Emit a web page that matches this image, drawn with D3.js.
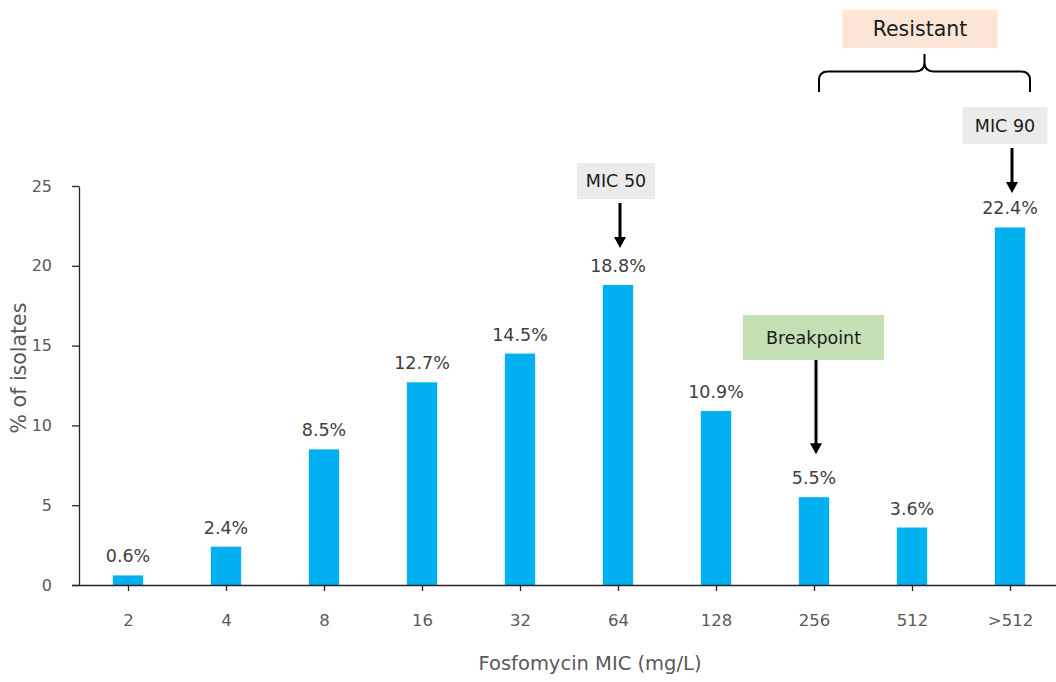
<!DOCTYPE html>
<html>
<head>
<meta charset="utf-8">
<script src="https://cdn.jsdelivr.net/npm/d3@7"></script>
<style>
  html, body { margin: 0; padding: 0; background: #fff; }
  svg { display: block; font-family: "DejaVu Sans", sans-serif; }
</style>
</head>
<body>
<svg id="chart" width="1056" height="682"></svg>
<script>
// Distribution of fosfomycin MICs among isolates
const categories = ["2", "4", "8", "16", "32", "64", "128", "256", "512", ">512"];
const percents   = [0.6, 2.4, 8.5, 12.7, 14.5, 18.8, 10.9, 5.5, 3.6, 22.4];
const yTicks     = [0, 5, 10, 15, 20, 25];

const svg = d3.select("#chart");

const x = d3.scalePoint().domain(categories).range([79, 1059]).padding(0.5);
const y = d3.scaleLinear().domain([0, 25]).range([585, 186]);
const barW = x.step() * 0.31;

// Y axis
const yAxis = svg.append("g").attr("transform", "translate(79,0)")
  .call(d3.axisLeft(y).tickValues(yTicks).tickSize(7).tickPadding(20).tickSizeOuter(0));
yAxis.select(".domain").attr("stroke", "#262626").attr("stroke-width", 1.3);
yAxis.selectAll(".tick line").attr("stroke", "#262626").attr("stroke-width", 1.3);
yAxis.selectAll(".tick text").attr("fill", "#595959").attr("font-size", 16)
  .attr("font-family", "DejaVu Sans, sans-serif");

// Bars
svg.append("g").selectAll("rect").data(categories).join("rect")
  .attr("x", (d) => x(d) - barW / 2)
  .attr("width", barW)
  .attr("y", (d, i) => y(percents[i]))
  .attr("height", (d, i) => y(0) - y(percents[i]))
  .attr("fill", "#00b0f0");

// X axis
const xAxis = svg.append("g").attr("transform", `translate(0,${y(0)})`)
  .call(d3.axisBottom(x).tickSize(6).tickPadding(23).tickSizeOuter(0));
xAxis.select(".domain").attr("d", "M72,0.5H1056").attr("stroke", "#262626").attr("stroke-width", 1.3);
xAxis.selectAll(".tick line").attr("stroke", "#262626").attr("stroke-width", 1.3);
xAxis.selectAll(".tick text").attr("fill", "#595959").attr("font-size", 16.5)
  .attr("font-family", "DejaVu Sans, sans-serif");

// Value labels
svg.append("g").selectAll("text").data(categories).join("text")
  .attr("x", (d) => x(d))
  .attr("y", (d, i) => y(percents[i]) - 13)
  .attr("text-anchor", "middle")
  .attr("font-size", 17.5)
  .attr("fill", "#404040")
  .text((d, i) => percents[i].toFixed(1) + "%");

// Axis titles
svg.append("text")
  .attr("transform", "translate(26,368) rotate(-90)")
  .attr("text-anchor", "middle")
  .attr("font-size", 20.5)
  .attr("fill", "#595959")
  .text("% of isolates");

svg.append("text")
  .attr("x", 590).attr("y", 670)
  .attr("text-anchor", "middle")
  .attr("font-size", 19.5)
  .attr("fill", "#595959")
  .text("Fosfomycin MIC (mg/L)");

// Callout boxes with downward arrows
function callout(cat, label, fill, box, arrowTop, arrowGap) {
  const i = categories.indexOf(cat);
  const cx = x(cat);
  const g = svg.append("g");
  g.append("rect")
    .attr("x", cx + box.dx - box.w / 2).attr("y", box.top)
    .attr("width", box.w).attr("height", box.h)
    .attr("fill", fill);
  g.append("text")
    .attr("x", cx + box.dx).attr("y", box.top + box.h / 2 + 6)
    .attr("text-anchor", "middle")
    .attr("font-size", 17.5)
    .attr("fill", "#1a1a1a")
    .text(label);
  const tip = y(percents[i]) - arrowGap;
  const ax = cx + 2;
  g.append("line")
    .attr("x1", ax).attr("x2", ax)
    .attr("y1", arrowTop).attr("y2", tip - 8)
    .attr("stroke", "#000").attr("stroke-width", 3);
  g.append("path")
    .attr("d", `M${ax - 6},${tip - 11}L${ax + 6},${tip - 11}L${ax},${tip}Z`)
    .attr("fill", "#000");
}

callout("64", "MIC 50", "#ebebeb", { dx: -2, w: 78, h: 36, top: 163 }, 203, 37);
callout("256", "Breakpoint", "#c5e0b4", { dx: -0.5, w: 141, h: 45, top: 315 }, 360, 43);
callout(">512", "MIC 90", "#ebebeb", { dx: -5, w: 85, h: 37, top: 107 }, 148, 34.5);

// Resistant bracket spanning the top categories
const bl = x("256") + 5, br = x(">512") + 20, bm = (bl + br) / 2;
svg.append("path")
  .attr("d", `M${bl},92V80Q${bl},71.5 ${bl + 9},71.5H${bm - 9}Q${bm},71.5 ${bm},62V54` +
             `M${bm},62Q${bm},71.5 ${bm + 9},71.5H${br - 9}Q${br},71.5 ${br},80V92`)
  .attr("fill", "none")
  .attr("stroke", "#000")
  .attr("stroke-width", 2);

svg.append("rect")
  .attr("x", bm - 82).attr("y", 10)
  .attr("width", 155).attr("height", 38)
  .attr("fill", "#fbe5d6");
svg.append("text")
  .attr("x", bm - 4.5).attr("y", 36)
  .attr("text-anchor", "middle")
  .attr("font-size", 20.5)
  .attr("fill", "#1a1a1a")
  .text("Resistant");
</script>
</body>
</html>
